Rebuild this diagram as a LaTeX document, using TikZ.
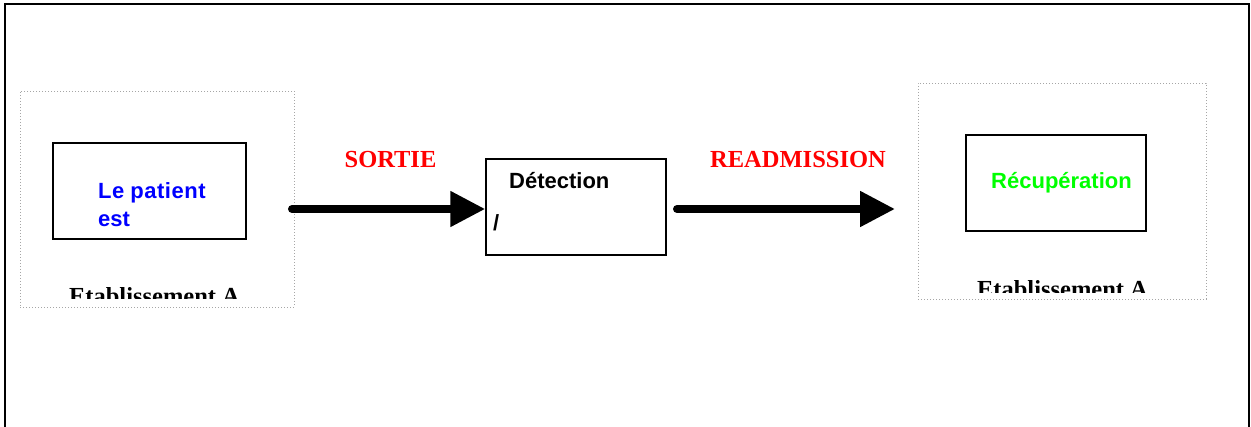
\documentclass[tikz,border=0pt]{standalone}
\usepackage{fontspec}
\setmainfont{Liberation Serif}
\setsansfont{Liberation Sans}
\usetikzlibrary{arrows.meta}

\definecolor{flowred}{RGB}{255,0,0}
\definecolor{patientblue}{RGB}{0,0,255}
\definecolor{recovgreen}{RGB}{0,255,0}

\tikzset{
  frame/.style={line width=2pt},
  zone/.style={draw=black!35, line width=0.9pt, dash pattern=on 1pt off 2pt},
  stage/.style={draw, line width=1.5pt, inner sep=0pt},
  flow/.style={line width=8pt, line cap=round, -{Triangle[length=35pt,width=34pt]}},
  boxtext/.style={font=\sffamily\bfseries\fontsize{22}{26}\selectfont, anchor=base west, inner sep=0pt},
  flowlabel/.style={font=\rmfamily\bfseries\fontsize{24.5}{28}\selectfont, text=flowred, anchor=base, inner sep=0pt},
  sitelabel/.style={font=\rmfamily\bfseries\fontsize{24.5}{28}\selectfont, anchor=base, inner sep=0pt},
}

\begin{document}
\begin{tikzpicture}[x=1pt,y=-1pt]
  \useasboundingbox (0,0) rectangle (1251,427);

  % outer frame, open at the bottom
  \draw[frame] (5,427) -- (5,4) -- (1249,4) -- (1249,427);

  % establishment zones
  \node[zone, minimum width=274pt, minimum height=216pt, inner sep=0pt] (zoneA) at (157,199) {};
  \node[zone, minimum width=288pt, minimum height=216pt, inner sep=0pt] (zoneB) at (1062,191) {};

  % stage boxes
  \node[stage, minimum width=193pt, minimum height=96pt] (patient) at (149.5,191) {};
  \node[stage, minimum width=180pt, minimum height=96pt] (detect) at (576,207) {};
  \node[stage, minimum width=180pt, minimum height=96pt] (recov) at (1056,183) {};

  % box texts
  \node[boxtext, text=patientblue] (patientA) at (98,199) {L\kern0.5pt e p\kern0.5pt a\kern0.5pt t\kern0.5pt i\kern0.5pt e\kern0.5pt n\kern0.5pt t};
  \node[boxtext, text=patientblue] (patientB) at (98,227) {est};
  \node[boxtext] (detecttxt) at (509,189) {Détection};
  \node[boxtext] (slash) at (493,231) {/};
  \node[boxtext, text=recovgreen] (recovtxt) at (991,189) {Récupération};

  % zone captions, cut off above the lower edge of each zone
  \begin{scope}
    \clip (20,91) rectangle (294,299);
    \node[sitelabel] (siteA) at (154.5,304.5) {Etablissement A};
  \end{scope}
  \begin{scope}
    \clip (918,83) rectangle (1206,292.5);
    \node[sitelabel] (siteB) at (1062.5,298) {Etablissement A};
  \end{scope}

  % flows
  \coordinate (outstart) at (292,209);
  \coordinate (instart) at (677,209);
  \coordinate (inend) at (895,209);
  \draw[flow] (outstart) -- (outstart -| detect.west);
  \draw[flow] (instart) -- (inend);

  \node[flowlabel] (sortie) at (390.5,168) {SORTIE};
  \node[flowlabel] (readm) at (798,168) {READMISSION};
\end{tikzpicture}
\end{document}
